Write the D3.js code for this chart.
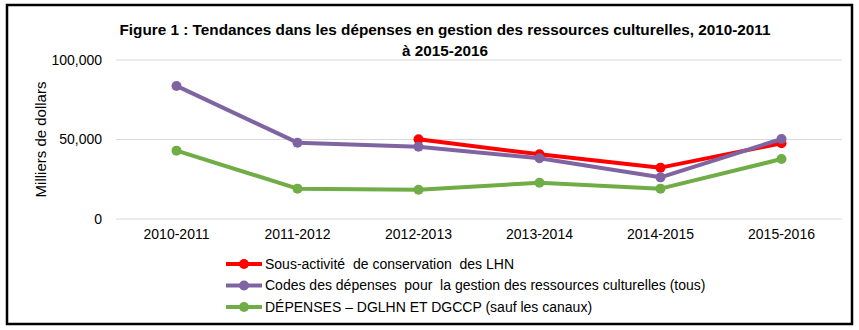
<!DOCTYPE html>
<html>
<head>
<meta charset="utf-8">
<script src="https://cdn.jsdelivr.net/npm/d3@7"></script>
<style>
  body { margin: 0; background: #fff; }
  svg text { font-family: "Liberation Sans", Arial, sans-serif; fill: #000; }
</style>
</head>
<body>
<div id="chart"></div>
<script>
// données (milliers de dollars)
const years = ["2010-2011", "2011-2012", "2012-2013", "2013-2014", "2014-2015", "2015-2016"];
const conservationLHN = [null, null, 50100, 40700, 32300, 47600];
const codesDepenses = [83700, 48000, 45500, 38200, 26200, 50300];
const depensesDGLHN = [43000, 19100, 18400, 22800, 19100, 37700];
const yTicks = [0, 50000, 100000];
const seriesNames = [
  "Sous-activité  de conservation  des LHN",
  "Codes des dépenses  pour  la gestion des ressources culturelles (tous)",
  "DÉPENSES – DGLHN ET DGCCP (sauf les canaux)"
];
const seriesColors = ["#ff0000", "#8064a2", "#70ad47"];

const width = 859, height = 330;
const margin = { left: 116, right: 17, top: 60, bottom: 111 };

const svg = d3.select("#chart").append("svg")
  .attr("width", width)
  .attr("height", height);

// cadre
svg.append("rect")
  .attr("x", 7).attr("y", 5)
  .attr("width", 845).attr("height", 319)
  .attr("fill", "none")
  .attr("stroke", "#000")
  .attr("stroke-width", 2.5);

const x = d3.scaleBand()
  .domain(years)
  .range([margin.left, width - margin.right]);

const y = d3.scaleLinear()
  .domain([0, 100000])
  .range([height - margin.bottom, margin.top]);

// grille
svg.append("g")
  .selectAll("line")
  .data(yTicks)
  .enter()
  .append("line")
  .attr("x1", margin.left)
  .attr("x2", width - margin.right)
  .attr("y1", d => y(d))
  .attr("y2", d => y(d))
  .attr("stroke", "#d9d9d9")
  .attr("stroke-width", 1);

// axe y
const yAxis = svg.append("g")
  .attr("transform", `translate(${margin.left},0)`)
  .call(d3.axisLeft(y).tickValues(yTicks).tickSize(0).tickPadding(14).tickFormat(d3.format(",")));
yAxis.select(".domain").remove();
yAxis.selectAll("text").style("font-size", "14px").attr("fill", "#000");

// axe x
const xAxis = svg.append("g")
  .attr("transform", `translate(0,${y(0)})`)
  .call(d3.axisBottom(x).tickSize(0).tickPadding(10));
xAxis.select(".domain").remove();
xAxis.selectAll("text").style("font-size", "14px").attr("fill", "#000");

// titre de l'axe y
svg.append("text")
  .attr("transform", `translate(46,${(y(0) + y(100000)) / 2}) rotate(-90)`)
  .attr("text-anchor", "middle")
  .style("font-size", "15px")
  .text("Milliers de dollars");

// titre
const title = svg.append("text")
  .attr("text-anchor", "middle")
  .style("font-size", "15.3px")
  .style("font-weight", "bold");
title.append("tspan").attr("x", 445).attr("y", 35)
  .text("Figure 1 : Tendances dans les dépenses en gestion des ressources culturelles, 2010-2011");
title.append("tspan").attr("x", 445).attr("y", 56)
  .text("à 2015-2016");

// séries
const allSeries = [conservationLHN, codesDepenses, depensesDGLHN];
const line = d3.line()
  .defined(d => d != null)
  .x((d, i) => x(years[i]) + x.bandwidth() / 2)
  .y(d => y(d));

allSeries.forEach((vals, s) => {
  svg.append("path")
    .datum(vals)
    .attr("fill", "none")
    .attr("stroke", seriesColors[s])
    .attr("stroke-width", 4)
    .attr("stroke-linejoin", "round")
    .attr("d", line);
  svg.append("g")
    .selectAll("circle")
    .data(vals.map((v, i) => ({ v, i })).filter(d => d.v != null))
    .enter()
    .append("circle")
    .attr("cx", d => x(years[d.i]) + x.bandwidth() / 2)
    .attr("cy", d => y(d.v))
    .attr("r", 5)
    .attr("fill", seriesColors[s]);
});

// légende
const legend = svg.append("g");
const legendRows = legend.selectAll("g")
  .data(seriesNames)
  .enter()
  .append("g")
  .attr("transform", (d, i) => `translate(226,${264 + i * 21.5})`);
legendRows.append("line")
  .attr("x1", 0).attr("x2", 36)
  .attr("stroke", (d, i) => seriesColors[i])
  .attr("stroke-width", 4);
legendRows.append("circle")
  .attr("cx", 18).attr("r", 5)
  .attr("fill", (d, i) => seriesColors[i]);
legendRows.append("text")
  .attr("x", 39).attr("dy", "0.35em")
  .style("font-size", "14px")
  .style("white-space", "pre")
  .text(d => d);
</script>
</body>
</html>
